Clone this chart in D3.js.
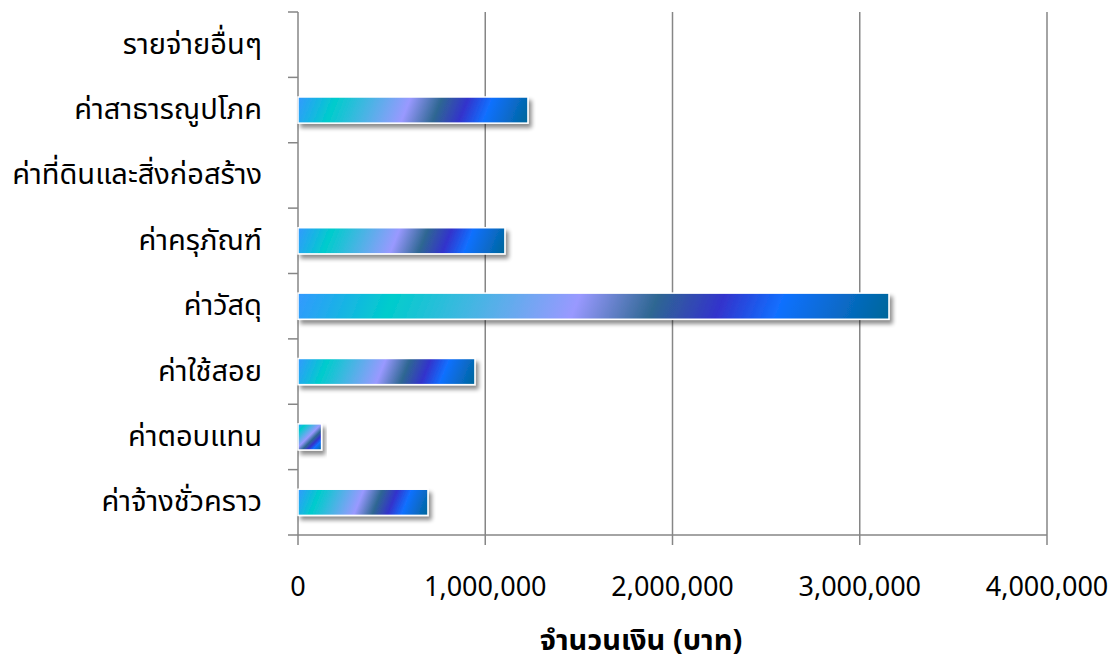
<!DOCTYPE html>
<html>
<head>
<meta charset="utf-8">
<script src="https://cdn.jsdelivr.net/npm/d3@7"></script>
<style>
  body { margin: 0; background: #fff; }
  text { font-family: "Noto Sans Thai", "Noto Sans", "DejaVu Sans", sans-serif; fill: #000; }
</style>
</head>
<body>
<div id="chart"></div>
<script>
// categories from bottom to top (as drawn)
var categories = ["ค่าจ้างชั่วคราว", "ค่าตอบแทน", "ค่าใช้สอย", "ค่าวัสดุ", "ค่าครุภัณฑ์", "ค่าที่ดินและสิ่งก่อสร้าง", "ค่าสาธารณูปโภค", "รายจ่ายอื่นๆ"];
var amounts = [694000, 126000, 945000, 3156000, 1105000, 0, 1228000, 0];
var xTicks = [0, 1000000, 2000000, 3000000, 4000000];
var xTitle = "จำนวนเงิน (บาท)";
// "peacock" gradient stops
var stopOffsets = [0, 0.16, 0.47, 0.60, 0.71, 0.81, 1];
var stopColors = ["#3399ff", "#00cccc", "#9999ff", "#2e6792", "#3333cc", "#1170ff", "#006699"];

var W = 1116, H = 664;
var margin = {top: 12, right: 69, bottom: 129, left: 298};
var width = W - margin.left - margin.right,
    height = H - margin.top - margin.bottom;

var svg = d3.select("#chart").append("svg")
    .attr("width", W).attr("height", H);
var defs = svg.append("defs");

var shadow = defs.append("filter").attr("id", "shadow")
    .attr("x", "-10%").attr("y", "-40%").attr("width", "130%").attr("height", "200%");
shadow.append("feGaussianBlur").attr("in", "SourceAlpha").attr("stdDeviation", 2.2).attr("result", "b");
shadow.append("feOffset").attr("dx", 3).attr("dy", 4).attr("result", "o");
shadow.append("feComponentTransfer").append("feFuncA").attr("type", "linear").attr("slope", 0.45);
var merge = shadow.append("feMerge");
merge.append("feMergeNode");
merge.append("feMergeNode").attr("in", "SourceGraphic");

var g = svg.append("g").attr("transform", `translate(${margin.left},${margin.top})`);

var x = d3.scaleLinear().domain([0, 4000000]).range([0, width]);
var y = d3.scaleBand().domain(categories.slice().reverse()).range([0, height]).paddingInner(0.6).paddingOuter(0.3);
var band = d3.scaleBand().domain(categories.slice().reverse()).range([0, height]);

// vertical gridlines + bottom ticks
g.selectAll(".grid").data(xTicks.slice(1)).enter().append("line")
    .attr("x1", d => x(d)).attr("x2", d => x(d))
    .attr("y1", 0).attr("y2", height + 10)
    .attr("stroke", "#868686").attr("stroke-width", 1.5);
g.append("line").attr("x1", -10).attr("x2", width).attr("y1", height).attr("y2", height)
    .attr("stroke", "#868686").attr("stroke-width", 1.5);
// y axis line + ticks
g.append("line").attr("x1", 0).attr("x2", 0).attr("y1", 0).attr("y2", height + 10)
    .attr("stroke", "#868686").attr("stroke-width", 1.5);
var yEdges = categories.map(c => band(c));
g.selectAll(".ytick").data(yEdges).enter().append("line")
    .attr("x1", -10).attr("x2", 0).attr("y1", d => d).attr("y2", d => d)
    .attr("stroke", "#868686").attr("stroke-width", 1.5);

// bars (gradient in the rect's own user space, slanted stripes)
var data = categories.map((c, i) => ({cat: c, val: amounts[i], i: i}));
data.forEach(function(d) {
  var w = x(d.val), yt = y(d.cat), h = y.bandwidth();
  var vx = 25, vy = w < 60 ? 25 : 10;
  var t = (vx * w + vy * h) / (vx * vx + vy * vy);
  var grad = defs.append("linearGradient").attr("id", "grad" + d.i)
      .attr("gradientUnits", "userSpaceOnUse")
      .attr("x1", 0).attr("y1", yt)
      .attr("x2", vx * t).attr("y2", yt + vy * t);
  stopOffsets.forEach((o, k) => grad.append("stop").attr("offset", o).attr("stop-color", stopColors[k]));
});
g.selectAll(".bar").data(data.filter(d => d.val > 0)).enter().append("rect")
    .attr("x", 0).attr("y", d => y(d.cat))
    .attr("width", d => x(d.val)).attr("height", y.bandwidth())
    .attr("fill", d => `url(#grad${d.i})`)
    .attr("stroke", "#fff").attr("stroke-width", 1.5)
    .attr("filter", "url(#shadow)");

// y labels
g.selectAll(".ylab").data(categories).enter().append("text")
    .attr("x", -36).attr("y", d => band(d) + band.bandwidth() / 2)
    .attr("text-anchor", "end").attr("dominant-baseline", "central")
    .attr("font-size", 29).text(d => d);

// x labels
g.selectAll(".xlab").data(xTicks).enter().append("text")
    .attr("x", d => x(d)).attr("y", height + 52)
    .attr("text-anchor", "middle").attr("dominant-baseline", "central")
    .attr("font-size", 27).attr("font-family", "'DejaVu Sans Condensed', 'Liberation Sans Narrow', sans-serif")
    .text(d => d3.format(",")(d));

g.append("text").attr("x", 641 - margin.left).attr("y", height + 106)
    .attr("text-anchor", "middle").attr("dominant-baseline", "central")
    .attr("font-size", 29).attr("font-weight", "bold").text(xTitle);
</script>
</body>
</html>
